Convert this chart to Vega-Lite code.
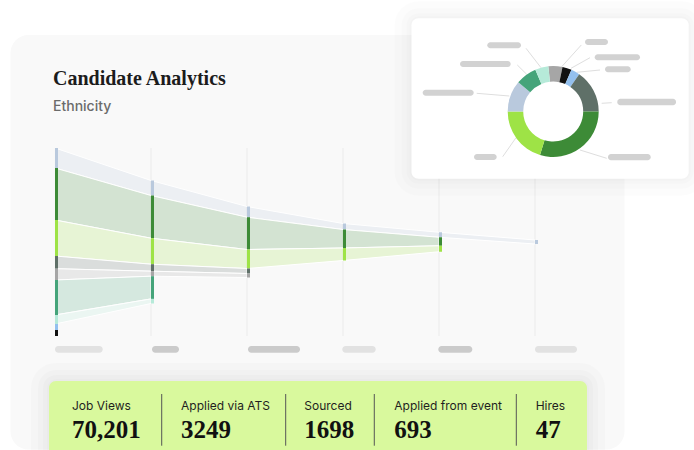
{
  "$schema": "https://vega.github.io/schema/vega-lite/v6.json",
  "width": 694,
  "height": 450,
  "padding": 0,
  "autosize": {"type": "none"},
  "background": "#ffffff",
  "config": {"view": {"stroke": null}, "axis": {"disable": true}, "legend": {"disable": true}, "scale": {"continuousPadding": 0}},
  "datasets": {
    "nodes": [
      {"stage": 0, "group": "Group A", "v": 20},
      {"stage": 0, "group": "Group B", "v": 52},
      {"stage": 0, "group": "Group C", "v": 36},
      {"stage": 0, "group": "Group D", "v": 12.7},
      {"stage": 0, "group": "Group E", "v": 11.3},
      {"stage": 0, "group": "Group F", "v": 35},
      {"stage": 0, "group": "Group G", "v": 9},
      {"stage": 0, "group": "Group H", "v": 6},
      {"stage": 0, "group": "Group I", "v": 6},
      {"stage": 1, "group": "Group A", "v": 15},
      {"stage": 1, "group": "Group B", "v": 42.7},
      {"stage": 1, "group": "Group C", "v": 26},
      {"stage": 1, "group": "Group D", "v": 7},
      {"stage": 1, "group": "Group E", "v": 5},
      {"stage": 1, "group": "Group F", "v": 22.7},
      {"stage": 1, "group": "Group G", "v": 4.6},
      {"stage": 2, "group": "Group A", "v": 10.7},
      {"stage": 2, "group": "Group B", "v": 32.3},
      {"stage": 2, "group": "Group C", "v": 19},
      {"stage": 2, "group": "Group D", "v": 5},
      {"stage": 2, "group": "Group E", "v": 4},
      {"stage": 3, "group": "Group A", "v": 6},
      {"stage": 3, "group": "Group B", "v": 18.5},
      {"stage": 3, "group": "Group C", "v": 12.5},
      {"stage": 4, "group": "Group A", "v": 5},
      {"stage": 4, "group": "Group B", "v": 8.5},
      {"stage": 4, "group": "Group C", "v": 6},
      {"stage": 5, "group": "Group A", "v": 4}
    ],
    "donut": [
      {"group": "Group E", "share": 5.0, "order": 1},
      {"group": "Group I", "share": 3.3, "order": 2},
      {"group": "Group H", "share": 3.1, "order": 3},
      {"group": "Group D", "share": 15.3, "order": 4},
      {"group": "Group B", "share": 29.7, "order": 5},
      {"group": "Group C", "share": 20.3, "order": 6},
      {"group": "Group A", "share": 11.1, "order": 7},
      {"group": "Group F", "share": 7.5, "order": 8},
      {"group": "Group G", "share": 4.7, "order": 9}
    ],
    "kpis": [
      {"metric": "Job Views", "count": "70,201"},
      {"metric": "Applied via ATS", "count": "3249"},
      {"metric": "Sourced", "count": "1698"},
      {"metric": "Applied from event", "count": "693"},
      {"metric": "Hires", "count": "47"}
    ]
  },
  "layer": [
    {
      "data": {"values": [{}]},
      "layer": [
        {
          "mark": {"type": "rect", "color": "#f9f9f9", "cornerRadius": 18},
          "encoding": {
            "x": {"datum": -0.4635, "type": "quantitative", "scale": {"domain": [0, 5], "range": [55, 535], "zero": false, "nice": false, "padding": 0}, "axis": null},
            "x2": {"datum": 5.9323},
            "y": {"datum": -113, "type": "quantitative", "scale": {"domain": [0, 188], "range": [148, 336], "zero": false, "nice": false, "padding": 0}, "axis": null},
            "y2": {"datum": 301.5}
          }
        },
        {
          "mark": {"type": "text", "text": "Candidate Analytics", "font": "Liberation Serif", "fontWeight": "bold", "fontSize": 20, "color": "#1c1c1c", "align": "left", "baseline": "alphabetic"},
          "encoding": {"x": {"datum": -0.0208, "axis": null}, "y": {"datum": -63, "axis": null}}
        },
        {
          "mark": {"type": "text", "text": "Ethnicity", "font": "Inter", "fontWeight": 500, "fontSize": 14, "color": "#6b6b6b", "align": "left", "baseline": "alphabetic"},
          "encoding": {"x": {"datum": -0.0208, "axis": null}, "y": {"datum": -37, "axis": null}}
        }
      ]
    },
    {
      "data": {"name": "nodes"},
      "transform": [
        {"stack": "v", "groupby": ["stage"], "sort": [{"field": "group", "order": "ascending"}], "offset": "center", "as": ["y0", "y1"]}
      ],
      "layer": [
        {
          "transform": [{"aggregate": [{"op": "count", "as": "n"}], "groupby": ["stage"]}],
          "mark": {"type": "rule", "color": "#ebebeb", "strokeWidth": 1},
          "encoding": {
            "x": {"field": "stage", "type": "quantitative", "axis": null},
            "y": {"datum": 0, "axis": null},
            "y2": {"datum": 188}
          }
        },
        {
          "mark": {"type": "area", "fillOpacity": 0.2, "stroke": "#ffffff", "strokeWidth": 1, "interpolate": "linear"},
          "encoding": {
            "x": {"field": "stage", "type": "quantitative", "axis": null},
            "y": {"field": "y0", "type": "quantitative", "axis": null},
            "y2": {"field": "y1"},
            "color": {
              "field": "group", "type": "nominal", "legend": null,
              "scale": {
                "domain": ["Group A", "Group B", "Group C", "Group D", "Group E", "Group F", "Group G", "Group H", "Group I"],
                "range": ["#b9c9dd", "#3d8b37", "#9ee346", "#5f7068", "#a6a6a6", "#45a47a", "#b6ead9", "#93c0ee", "#111111"]
              }
            }
          }
        },
        {
          "mark": {"type": "bar", "width": 3, "xOffset": 1.5},
          "encoding": {
            "x": {"field": "stage", "type": "quantitative", "axis": null},
            "y": {"field": "y0", "type": "quantitative", "axis": null},
            "y2": {"field": "y1"},
            "color": {"field": "group", "type": "nominal", "legend": null}
          }
        }
      ]
    },
    {
      "data": {"values": [{}]},
      "encoding": {"y": {"datum": 198, "axis": null}, "y2": {"datum": 204.7}},
      "layer": [
        {"mark": {"type": "rect", "cornerRadius": 3.3, "color": "#e2e2e2"}, "encoding": {"x": {"datum": 0, "axis": null}, "x2": {"datum": 0.4969}}},
        {"mark": {"type": "rect", "cornerRadius": 3.3, "color": "#cbcbcb"}, "encoding": {"x": {"datum": 1.0104, "axis": null}, "x2": {"datum": 1.2917}}},
        {"mark": {"type": "rect", "cornerRadius": 3.3, "color": "#cbcbcb"}, "encoding": {"x": {"datum": 2.0104, "axis": null}, "x2": {"datum": 2.5521}}},
        {"mark": {"type": "rect", "cornerRadius": 3.3, "color": "#e2e2e2"}, "encoding": {"x": {"datum": 2.9927, "axis": null}, "x2": {"datum": 3.3406}}},
        {"mark": {"type": "rect", "cornerRadius": 3.3, "color": "#cbcbcb"}, "encoding": {"x": {"datum": 3.9927, "axis": null}, "x2": {"datum": 4.3469}}},
        {"mark": {"type": "rect", "cornerRadius": 3.3, "color": "#e2e2e2"}, "encoding": {"x": {"datum": 5.0, "axis": null}, "x2": {"datum": 5.4375}}}
      ]
    },
    {
      "data": {"values": [{}]},
      "encoding": {
        "x": {"datum": 3.7135, "axis": null},
        "x2": {"datum": 6.6010},
        "y": {"datum": -129.7, "axis": null},
        "y2": {"datum": 30.7}
      },
      "layer": [
        {"mark": {"type": "rect", "filled": false, "stroke": "#000000", "strokeOpacity": 0.012, "strokeWidth": 34, "cornerRadius": 7}},
        {"mark": {"type": "rect", "filled": false, "stroke": "#000000", "strokeOpacity": 0.012, "strokeWidth": 20, "cornerRadius": 7}},
        {"mark": {"type": "rect", "filled": false, "stroke": "#000000", "strokeOpacity": 0.012, "strokeWidth": 10, "cornerRadius": 7}},
        {"mark": {"type": "rect", "filled": false, "stroke": "#000000", "strokeOpacity": 0.012, "strokeWidth": 4, "cornerRadius": 7}},
        {"mark": {"type": "rect", "color": "#ffffff", "cornerRadius": 7}}
      ]
    },
    {
      "data": {"values": [{}]},
      "layer": [
        {"mark": {"type": "rule", "color": "#dedede", "strokeWidth": 1}, "encoding": {"x": {"datum": 5.0625, "axis": null}, "y": {"datum": -80.3, "axis": null}, "x2": {"datum": 4.9063}, "y2": {"datum": -99.7}}},
        {"mark": {"type": "rule", "color": "#dedede", "strokeWidth": 1}, "encoding": {"x": {"datum": 4.9135, "axis": null}, "y": {"datum": -73.7, "axis": null}, "x2": {"datum": 4.8156}, "y2": {"datum": -83}}},
        {"mark": {"type": "rule", "color": "#dedede", "strokeWidth": 1}, "encoding": {"x": {"datum": 4.7323, "axis": null}, "y": {"datum": -52, "axis": null}, "x2": {"datum": 4.3927}, "y2": {"datum": -54.7}}},
        {"mark": {"type": "rule", "color": "#dedede", "strokeWidth": 1}, "encoding": {"x": {"datum": 4.8021, "axis": null}, "y": {"datum": -10.3, "axis": null}, "x2": {"datum": 4.6635}, "y2": {"datum": 8.7}}},
        {"mark": {"type": "rule", "color": "#dedede", "strokeWidth": 1}, "encoding": {"x": {"datum": 5.2781, "axis": null}, "y": {"datum": -81.3, "axis": null}, "x2": {"datum": 5.4823}, "y2": {"datum": -103}}},
        {"mark": {"type": "rule", "color": "#dedede", "strokeWidth": 1}, "encoding": {"x": {"datum": 5.375, "axis": null}, "y": {"datum": -79.7, "axis": null}, "x2": {"datum": 5.5729}, "y2": {"datum": -90.3}}},
        {"mark": {"type": "rule", "color": "#dedede", "strokeWidth": 1}, "encoding": {"x": {"datum": 5.4344, "axis": null}, "y": {"datum": -75.7, "axis": null}, "x2": {"datum": 5.6771}, "y2": {"datum": -78}}},
        {"mark": {"type": "rule", "color": "#dedede", "strokeWidth": 1}, "encoding": {"x": {"datum": 5.6948, "axis": null}, "y": {"datum": -44.7, "axis": null}, "x2": {"datum": 5.799}, "y2": {"datum": -45.3}}},
        {"mark": {"type": "rule", "color": "#dedede", "strokeWidth": 1}, "encoding": {"x": {"datum": 5.4688, "axis": null}, "y": {"datum": 2, "axis": null}, "x2": {"datum": 5.7469}, "y2": {"datum": 10.3}}},
        {"mark": {"type": "rect", "cornerRadius": 3, "color": "#d2d2d2"}, "encoding": {"x": {"datum": 4.5031, "axis": null}, "x2": {"datum": 4.8542}, "y": {"datum": -105.7, "axis": null}, "y2": {"datum": -99.7}}},
        {"mark": {"type": "rect", "cornerRadius": 3, "color": "#d2d2d2"}, "encoding": {"x": {"datum": 4.2188, "axis": null}, "x2": {"datum": 4.7469}, "y": {"datum": -87, "axis": null}, "y2": {"datum": -81}}},
        {"mark": {"type": "rect", "cornerRadius": 3, "color": "#d2d2d2"}, "encoding": {"x": {"datum": 3.8302, "axis": null}, "x2": {"datum": 4.3615}, "y": {"datum": -58.3, "axis": null}, "y2": {"datum": -52.3}}},
        {"mark": {"type": "rect", "cornerRadius": 3, "color": "#d2d2d2"}, "encoding": {"x": {"datum": 4.3646, "axis": null}, "x2": {"datum": 4.601}, "y": {"datum": 6, "axis": null}, "y2": {"datum": 12}}},
        {"mark": {"type": "rect", "cornerRadius": 3, "color": "#d2d2d2"}, "encoding": {"x": {"datum": 5.5208, "axis": null}, "x2": {"datum": 5.7604}, "y": {"datum": -109, "axis": null}, "y2": {"datum": -103}}},
        {"mark": {"type": "rect", "cornerRadius": 3, "color": "#d2d2d2"}, "encoding": {"x": {"datum": 5.6219, "axis": null}, "x2": {"datum": 6.0938}, "y": {"datum": -93.7, "axis": null}, "y2": {"datum": -87.7}}},
        {"mark": {"type": "rect", "cornerRadius": 3, "color": "#d2d2d2"}, "encoding": {"x": {"datum": 5.7292, "axis": null}, "x2": {"datum": 5.9969}, "y": {"datum": -81.7, "axis": null}, "y2": {"datum": -75.7}}},
        {"mark": {"type": "rect", "cornerRadius": 3, "color": "#d2d2d2"}, "encoding": {"x": {"datum": 5.8573, "axis": null}, "x2": {"datum": 6.4688}, "y": {"datum": -49.3, "axis": null}, "y2": {"datum": -42.7}}},
        {"mark": {"type": "rect", "cornerRadius": 3, "color": "#d2d2d2"}, "encoding": {"x": {"datum": 5.7604, "axis": null}, "x2": {"datum": 6.2052}, "y": {"datum": 6, "axis": null}, "y2": {"datum": 12.3}}}
      ]
    },
    {
      "data": {"name": "donut"},
      "mark": {"type": "arc", "radius": 45.5, "radius2": 30},
      "encoding": {
        "theta": {"field": "share", "type": "quantitative", "stack": true, "scale": {"range": [-0.108, 6.1752]}},
        "order": {"field": "order", "type": "quantitative"},
        "color": {"field": "group", "type": "nominal", "legend": null},
        "x": {"datum": 5.1896, "axis": null},
        "y": {"datum": -36.5, "axis": null}
      }
    },
    {
      "data": {"values": [{}]},
      "encoding": {
        "x": {"datum": -0.0625, "axis": null},
        "x2": {"datum": 5.5417},
        "y": {"datum": 233, "axis": null},
        "y2": {"datum": 330}
      },
      "layer": [
        {"mark": {"type": "rect", "filled": false, "stroke": "#000000", "strokeOpacity": 0.015, "strokeWidth": 36, "cornerRadius": 7}},
        {"mark": {"type": "rect", "filled": false, "stroke": "#000000", "strokeOpacity": 0.015, "strokeWidth": 22, "cornerRadius": 7}},
        {"mark": {"type": "rect", "filled": false, "stroke": "#000000", "strokeOpacity": 0.015, "strokeWidth": 12, "cornerRadius": 7}},
        {"mark": {"type": "rect", "filled": false, "stroke": "#000000", "strokeOpacity": 0.012, "strokeWidth": 4, "cornerRadius": 7}},
        {"mark": {"type": "rect", "color": "#d9f99d", "cornerRadius": 7}}
      ]
    },
    {
      "data": {"name": "kpis"},
      "layer": [
        {
          "transform": [{"filter": {"field": "metric", "equal": "Job Views"}}],
          "encoding": {"x": {"datum": 0.1771, "axis": null}},
          "layer": [
            {"mark": {"type": "text", "font": "Inter", "fontSize": 12, "color": "#1f1f1f", "align": "left", "baseline": "alphabetic"}, "encoding": {"y": {"datum": 262.3, "axis": null}, "text": {"field": "metric"}}},
            {"mark": {"type": "text", "font": "Liberation Serif", "fontWeight": "bold", "fontSize": 25, "color": "#111111", "align": "left", "baseline": "alphabetic"}, "encoding": {"y": {"datum": 290.3, "axis": null}, "text": {"field": "count"}}}
          ]
        },
        {
          "transform": [{"filter": {"field": "metric", "equal": "Applied via ATS"}}],
          "encoding": {"x": {"datum": 1.3125, "axis": null}},
          "layer": [
            {"mark": {"type": "rule", "color": "#555555", "strokeWidth": 1}, "encoding": {"x": {"datum": 1.1115, "axis": null}, "y": {"datum": 246, "axis": null}, "y2": {"datum": 297.7}}},
            {"mark": {"type": "text", "font": "Inter", "fontSize": 12, "color": "#1f1f1f", "align": "left", "baseline": "alphabetic"}, "encoding": {"y": {"datum": 262.3, "axis": null}, "text": {"field": "metric"}}},
            {"mark": {"type": "text", "font": "Liberation Serif", "fontWeight": "bold", "fontSize": 25, "color": "#111111", "align": "left", "baseline": "alphabetic"}, "encoding": {"y": {"datum": 290.3, "axis": null}, "text": {"field": "count"}}}
          ]
        },
        {
          "transform": [{"filter": {"field": "metric", "equal": "Sourced"}}],
          "encoding": {"x": {"datum": 2.5969, "axis": null}},
          "layer": [
            {"mark": {"type": "rule", "color": "#555555", "strokeWidth": 1}, "encoding": {"x": {"datum": 2.4031, "axis": null}, "y": {"datum": 246, "axis": null}, "y2": {"datum": 297.7}}},
            {"mark": {"type": "text", "font": "Inter", "fontSize": 12, "color": "#1f1f1f", "align": "left", "baseline": "alphabetic"}, "encoding": {"y": {"datum": 262.3, "axis": null}, "text": {"field": "metric"}}},
            {"mark": {"type": "text", "font": "Liberation Serif", "fontWeight": "bold", "fontSize": 25, "color": "#111111", "align": "left", "baseline": "alphabetic"}, "encoding": {"y": {"datum": 290.3, "axis": null}, "text": {"field": "count"}}}
          ]
        },
        {
          "transform": [{"filter": {"field": "metric", "equal": "Applied from event"}}],
          "encoding": {"x": {"datum": 3.5344, "axis": null}},
          "layer": [
            {"mark": {"type": "rule", "color": "#555555", "strokeWidth": 1}, "encoding": {"x": {"datum": 3.326, "axis": null}, "y": {"datum": 246, "axis": null}, "y2": {"datum": 297.7}}},
            {"mark": {"type": "text", "font": "Inter", "fontSize": 12, "color": "#1f1f1f", "align": "left", "baseline": "alphabetic"}, "encoding": {"y": {"datum": 262.3, "axis": null}, "text": {"field": "metric"}}},
            {"mark": {"type": "text", "font": "Liberation Serif", "fontWeight": "bold", "fontSize": 25, "color": "#111111", "align": "left", "baseline": "alphabetic"}, "encoding": {"y": {"datum": 290.3, "axis": null}, "text": {"field": "count"}}}
          ]
        },
        {
          "transform": [{"filter": {"field": "metric", "equal": "Hires"}}],
          "encoding": {"x": {"datum": 5.0073, "axis": null}},
          "layer": [
            {"mark": {"type": "rule", "color": "#555555", "strokeWidth": 1}, "encoding": {"x": {"datum": 4.8052, "axis": null}, "y": {"datum": 246, "axis": null}, "y2": {"datum": 297.7}}},
            {"mark": {"type": "text", "font": "Inter", "fontSize": 12, "color": "#1f1f1f", "align": "left", "baseline": "alphabetic"}, "encoding": {"y": {"datum": 262.3, "axis": null}, "text": {"field": "metric"}}},
            {"mark": {"type": "text", "font": "Liberation Serif", "fontWeight": "bold", "fontSize": 25, "color": "#111111", "align": "left", "baseline": "alphabetic"}, "encoding": {"y": {"datum": 290.3, "axis": null}, "text": {"field": "count"}}}
          ]
        }
      ]
    }
  ]
}
